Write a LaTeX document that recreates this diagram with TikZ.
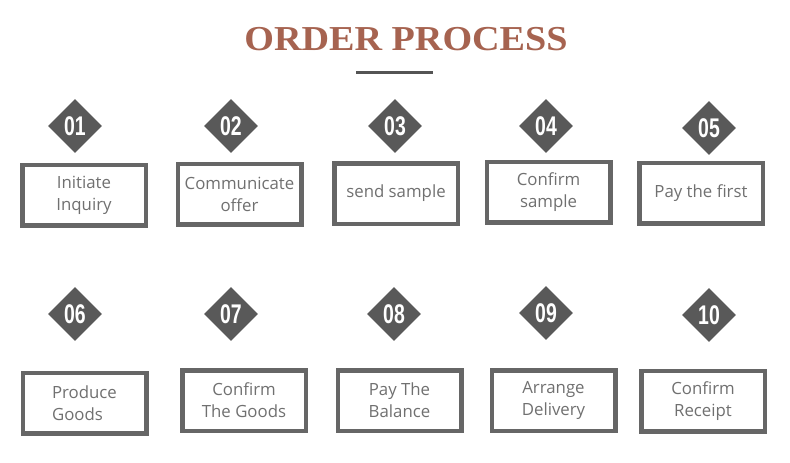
\documentclass[tikz,border=0pt]{standalone}
\usepackage{fontspec}
\setmainfont{Open Sans}
\newfontfamily\titlefont[FakeStretch=1.09]{Liberation Serif}
\newfontfamily\tagfont[FakeStretch=0.72]{Liberation Sans}
\usetikzlibrary{shapes.geometric}
\definecolor{TitleRust}{HTML}{A66350}
\definecolor{TagGrey}{HTML}{595959}
\definecolor{FrameGrey}{HTML}{666666}
\definecolor{LabelGrey}{HTML}{707070}
\tikzset{
  numtag/.style={diamond, fill=TagGrey, minimum width=54pt, minimum height=54pt,
    inner sep=0pt, text=white, font=\tagfont\bfseries\fontsize{27}{27}\selectfont},
  stepcard/.style={draw=FrameGrey, line width=4.5pt, fill=white,
    minimum width=123.5pt, minimum height=60.5pt, inner sep=0pt,
    text=LabelGrey, align=center, font=\fontsize{16.8}{22}\selectfont},
}
\newcommand{\orderstep}[7][]{% options, id, tag x, tag y, card x, card y, label
  \node[numtag] (tag#2) at (#3,#4) {#2};
  \node[stepcard, #1] (card#2) at (#5,#6) {#7};
}

\begin{document}
\begin{tikzpicture}[x=1pt, y=-1pt]
\useasboundingbox (0,0) rectangle (790,463);

% Heading
\node[font=\titlefont\bfseries\fontsize{35}{35}\selectfont, text=TitleRust, inner sep=0pt]
  (title) at (406,39.5) {ORDER PROCESS};
\draw[black!67, line width=3pt] (356,72.5) -- (433,72.5);

% First row
\orderstep{01}{75}{126}{84}{195}{Initiate\\Inquiry}
\orderstep{02}{231}{126}{239.5}{194}{Communicate\\offer}
\orderstep{03}{395}{126}{396}{193.5}{send sample}
\orderstep{04}{546}{126}{548.5}{192}{Confirm\\sample}
\orderstep{05}{709}{128}{701}{193}{Pay the first}

% Second row
\orderstep[align=left]{06}{75}{314}{84.5}{403}{Produce\\Goods}
\orderstep{07}{231}{314}{244}{400.5}{Confirm\\The Goods}
\orderstep{08}{394}{314}{399.5}{400.5}{Pay The\\Balance}
\orderstep{09}{546}{313}{553.5}{400.5}{Arrange\\Delivery}
\orderstep{10}{709}{315}{703}{401}{Confirm\\Receipt}

\end{tikzpicture}
\end{document}
